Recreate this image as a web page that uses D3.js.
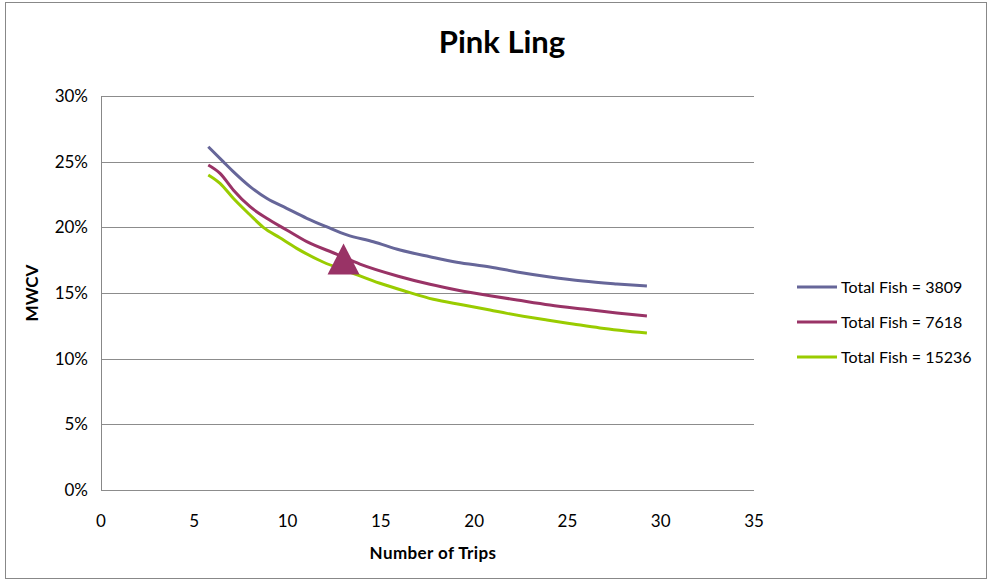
<!DOCTYPE html>
<meta charset="utf-8">
<script src="https://d3js.org/d3.v7.min.js"></script>
<style>
  body { margin: 0; background: #fff; }
  text { font-family: Lato, "Open Sans", sans-serif; fill: #000; }
</style>
<svg id="chart" width="991" height="581"></svg>
<script>

    // data (trips, MWCV %)
    var trips3809 = [5.75, 6.55, 7.09, 7.99, 8.88, 9.95, 11.03, 12.11, 13.18, 14.6, 16.03, 17.63, 19.07, 20.85, 22.3, 24.06, 25.83, 27.65, 29.26];
    var mwcv3809 = [26.14, 25.0, 24.24, 23.1, 22.21, 21.45, 20.69, 20.03, 19.42, 18.9, 18.27, 17.76, 17.34, 16.98, 16.6, 16.22, 15.91, 15.69, 15.53];

    var trips7618 = [5.75, 6.38, 7.09, 7.99, 8.88, 9.95, 11.03, 12.65, 13.88, 16.03, 17.63, 19.07, 20.85, 22.3, 24.06, 25.83, 27.65, 29.26];
    var mwcv7618 = [24.75, 24.11, 22.85, 21.57, 20.69, 19.8, 18.91, 17.95, 17.2, 16.24, 15.66, 15.23, 14.79, 14.47, 14.09, 13.78, 13.48, 13.25];

    var trips15236 = [5.75, 6.38, 7.09, 7.99, 8.7, 9.59, 10.49, 11.9, 13.34, 14.95, 16.39, 17.81, 19.42, 20.85, 21.76, 23.9, 25.3, 26.74, 29.26];
    var mwcv15236 = [23.99, 23.35, 22.21, 20.94, 20.0, 19.2, 18.4, 17.36, 16.6, 15.74, 15.1, 14.52, 14.09, 13.71, 13.45, 12.94, 12.64, 12.34, 11.95];

    var seriesNames = ["Total Fish = 3809", "Total Fish = 7618", "Total Fish = 15236"];
    var seriesColors = ["#666699", "#993366", "#99cc00"];

    // current design point
    var markerTrips = [13.0];
    var markerMwcv = [17.55];

    var xTicks = [0, 5, 10, 15, 20, 25, 30, 35];
    var yTicks = [0, 5, 10, 15, 20, 25, 30];

    var svg = d3.select("#chart");

    // outer frame
    svg.append("rect")
        .attr("x", 5.5).attr("y", 2.5)
        .attr("width", 981).attr("height", 576)
        .attr("fill", "none")
        .attr("stroke", "#888")
        .attr("stroke-width", 1);

    var x = d3.scaleLinear().domain([0, 35]).range([101, 754]);
    var y = d3.scaleLinear().domain([0, 30]).range([490, 96]);

    // gridlines
    svg.append("g")
        .selectAll("line")
        .data(yTicks)
        .enter()
        .append("line")
        .attr("x1", x(0)).attr("x2", x(35))
        .attr("y1", function (d) { return Math.round(y(d)) + 0.5 })
        .attr("y2", function (d) { return Math.round(y(d)) + 0.5 })
        .attr("stroke", "#8c8c8c")
        .attr("stroke-width", 1);

    // left axis line
    svg.append("line")
        .attr("x1", x(0) + 0.5).attr("x2", x(0) + 0.5)
        .attr("y1", y(30)).attr("y2", y(0))
        .attr("stroke", "#888");

    // tick labels
    svg.append("g")
        .selectAll("text")
        .data(yTicks)
        .enter()
        .append("text")
        .attr("x", 88)
        .attr("y", function (d) { return y(d) + 6 })
        .attr("text-anchor", "end")
        .style("font-size", "17px")
        .text(function (d) { return d + "%" });

    svg.append("g")
        .selectAll("text")
        .data(xTicks)
        .enter()
        .append("text")
        .attr("x", function (d) { return x(d) })
        .attr("y", 527)
        .attr("text-anchor", "middle")
        .style("font-size", "17px")
        .text(function (d) { return d });

    // titles
    svg.append("text")
        .attr("x", 502).attr("y", 53)
        .attr("text-anchor", "middle")
        .style("font-size", "31px")
        .style("font-weight", "bold")
        .text("Pink Ling");

    svg.append("text")
        .attr("x", 433).attr("y", 559)
        .attr("text-anchor", "middle")
        .style("font-size", "17px")
        .style("font-weight", "bold")
        .style("letter-spacing", "0.4px")
        .text("Number of Trips");

    svg.append("text")
        .attr("transform", "translate(38," + ((y(0) + y(30)) / 2) + ") rotate(-90)")
        .attr("text-anchor", "middle")
        .style("font-size", "17px")
        .style("font-weight", "bold")
        .text("MWCV");

    // lines
    var series = [
        d3.zip(trips3809, mwcv3809),
        d3.zip(trips7618, mwcv7618),
        d3.zip(trips15236, mwcv15236)
    ];

    var line = d3.line()
        .x(function (d) { return x(d[0]) })
        .y(function (d) { return y(d[1]) })
        .curve(d3.curveMonotoneX);

    svg.append("g")
        .selectAll("path")
        .data(series)
        .enter()
        .append("path")
        .attr("d", line)
        .attr("fill", "none")
        .attr("stroke", function (d, i) { return seriesColors[i] })
        .attr("stroke-width", 3)
        .attr("stroke-linejoin", "round");

    // triangle marker
    svg.append("g")
        .selectAll("path")
        .data(d3.zip(markerTrips, markerMwcv))
        .enter()
        .append("path")
        .attr("d", "M0,-16L16,15L-16,15Z")
        .attr("transform", function (d) { return "translate(" + x(d[0]) + "," + y(d[1]) + ")" })
        .attr("fill", "#993366");

    // legend
    var legend = svg.append("g")
        .selectAll("g")
        .data(seriesNames)
        .enter()
        .append("g")
        .attr("transform", function (d, i) { return "translate(797," + (287 + i * 35) + ")" });

    legend.append("line")
        .attr("x1", 0).attr("x2", 40)
        .attr("stroke", function (d, i) { return seriesColors[i] })
        .attr("stroke-width", 3);

    legend.append("text")
        .attr("x", 44).attr("y", 6)
        .style("font-size", "16px")
        .text(function (d) { return d });

</script>
